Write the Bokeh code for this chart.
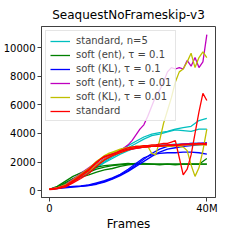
from bokeh.plotting import figure
from bokeh.models import Range1d, FixedTicker, Legend, LegendItem
from bokeh.embed import file_html
from bokeh.resources import INLINE

title = "SeaquestNoFrameskip-v3"
x_label = "Frames"
x_tick_values = [0, 40]
x_tick_labels = {0: "0", 40: "40M"}
y_tick_values = [0, 2000, 4000, 6000, 8000, 10000]

x2 = list(range(0, 41, 2))   # millions of frames, 2M step
x1 = list(range(0, 41))      # millions of frames, 1M step

cyan_runs = [
    (x2, [100, 250, 450, 750, 1050, 1400, 1750, 2100, 2450, 2800, 3150, 3450, 3750, 3950, 4050, 4150, 4300, 4400, 4500, 4900, 5050]),
    (x2, [100, 200, 400, 700, 1000, 1300, 1650, 2000, 2350, 2650, 3000, 3300, 3600, 3850, 3950, 4100, 4250, 4200, 4150, 4300, 4300]),
    (x2, [100, 200, 380, 650, 950, 1250, 1600, 1950, 2250, 2550, 2800, 3000, 3100, 3150, 3200, 3200, 3250, 3250, 3300, 3300, 3250]),
]
green_runs = [
    (x2, [100, 300, 650, 1000, 1250, 1500, 1650, 1750, 1800, 1850, 1900, 1850, 1850, 1850, 1850, 1850, 1850, 1850, 1850, 1850, 1850]),
    (x2, [100, 250, 550, 850, 1100, 1300, 1500, 1650, 1750, 1800, 1850, 1900, 1900, 1850, 1850, 1850, 1850, 1850, 1850, 1850, 1850]),
    (x2, [100, 200, 450, 750, 950, 1100, 1300, 1450, 1550, 1700, 1800, 1850, 1850, 1850, 1800, 1850, 1800, 1850, 1850, 1850, 2250]),
]
blue_runs = [
    (x2, [100, 200, 250, 300, 330, 400, 550, 700, 900, 1150, 1500, 1900, 2300, 2500, 2600, 2650, 2650, 2700, 2700, 2650, 2550]),
    (x2, [100, 200, 250, 280, 300, 380, 500, 650, 850, 1100, 1400, 1800, 2200, 2600, 2900, 3100, 3200, 3250, 3300, 3300, 3350]),
    (x2, [100, 150, 200, 250, 300, 350, 450, 600, 800, 1050, 1350, 1700, 2050, 2400, 2700, 2900, 3000, 3100, 3150, 3200, 3250]),
]
magenta_runs = [
    (x1, [100, 150, 200, 300, 400, 600, 800, 1000, 1200, 1400, 1600, 1800, 2000, 2200, 2350, 2500, 2600, 2700, 2850, 3000,
          3200, 3500, 3900, 4300, 4600, 5200, 5900, 6600, 7000, 7600, 8300, 8600, 8500, 8600, 8500, 9100, 8700, 9300, 8600, 9000, 10900]),
    (x2, [100, 200, 350, 650, 1000, 1400, 1850, 2250, 2500, 2700, 2900, 3000, 3050, 3100, 3150, 3200, 3200, 3250, 3250, 3300, 3300]),
    (x2, [100, 180, 330, 600, 950, 1350, 1800, 2200, 2450, 2700, 2850, 2950, 3050, 3100, 3100, 3150, 3200, 3200, 3250, 3250, 3250]),
]
yellow_runs = [
    (x1, [100, 130, 180, 250, 350, 500, 700, 900, 1100, 1300, 1500, 1750, 2000, 2200, 2400, 2550, 2650, 2750, 2850, 2950,
          3000, 3050, 3100, 3100, 3100, 3100, 2600, 2500, 3500, 4700, 5600, 6500, 7600, 8300, 8500, 9000, 9600, 8600, 9300, 9700, 9300]),
    (x1, [100, 150, 200, 300, 400, 550, 750, 950, 1150, 1350, 1550, 1800, 2050, 2250, 2450, 2600, 2700, 2800, 2900, 2950,
          3000, 3050, 3100, 3100, 3150, 3100, 3150, 3100, 3100, 3150, 3100, 3100, 3150, 3100, 3050, 2800, 1800, 1000, 1600, 2800, 4300]),
    (x2, [100, 200, 350, 650, 1000, 1350, 1800, 2200, 2450, 2650, 2850, 3000, 3050, 3100, 3100, 3150, 3150, 3200, 3200, 3200, 3200]),
]
red_runs = [
    (x1, [80, 100, 150, 220, 300, 450, 650, 800, 1000, 1200, 1400, 1700, 1950, 2200, 2350, 2450, 2550, 2650, 2800, 2900,
          3000, 3050, 3100, 3100, 3150, 3150, 3200, 3200, 3250, 3300, 3300, 3400, 3500, 2300, 1100, 1500, 2500, 4000, 5500, 6800, 6300]),
    (x2, [100, 150, 250, 550, 850, 1200, 1700, 2150, 2450, 2650, 2850, 2950, 3050, 3100, 3150, 3200, 3200, 3250, 3250, 3300, 3200]),
    (x2, [100, 200, 350, 700, 1100, 1500, 2000, 2400, 2550, 2750, 2900, 3000, 3050, 3100, 3100, 3150, 3150, 3200, 3250, 3250, 3300]),
]

series = [
    ("standard, n=5", "#00bfbf", cyan_runs),
    ("soft (ent), τ = 0.1", "#008000", green_runs),
    ("soft (KL), τ = 0.1", "#0000ff", blue_runs),
    ("soft (ent), τ = 0.01", "#bf00bf", magenta_runs),
    ("soft (KL), τ = 0.01", "#bfbf00", yellow_runs),
    ("standard", "#ff0000", red_runs),
]

p = figure(width=233, height=233, output_backend="svg", toolbar_location=None,
           x_range=Range1d(-2.0, 42.2), y_range=Range1d(-476, 11470),
           min_border_left=0, min_border_right=18, min_border_top=0, min_border_bottom=0)
p.title.text = title
p.title.align = "center"
p.title.text_font = "DejaVu Sans"
p.title.text_font_size = "12px"
p.title.text_font_style = "normal"
p.title.text_color = "black"
p.xgrid.visible = False
p.ygrid.visible = False
p.outline_line_color = "#404040"
p.outline_line_width = 1

for ax in (p.xaxis[0], p.yaxis[0]):
    ax.axis_line_color = "#404040"
    ax.major_tick_line_color = "#404040"
    ax.major_tick_in = 0
    ax.major_tick_out = 4
    ax.minor_tick_line_color = None
    ax.major_label_text_font = "DejaVu Sans"
    ax.major_label_text_font_size = "10px"
    ax.major_label_text_color = "black"
    ax.major_label_standoff = 2

p.xaxis.major_label_standoff = 1
p.xaxis.ticker = FixedTicker(ticks=x_tick_values)
p.xaxis.major_label_overrides = x_tick_labels
p.xaxis.axis_label = x_label
p.xaxis.axis_label_text_font = "DejaVu Sans"
p.xaxis.axis_label_text_font_size = "12px"
p.xaxis.axis_label_text_font_style = "normal"
p.xaxis.axis_label_text_color = "black"
p.xaxis.axis_label_standoff = 0
p.yaxis.ticker = FixedTicker(ticks=y_tick_values)

items = []
for label, color, runs in series:
    rs = []
    for xs, ys in runs:
        r = p.line(xs, ys, line_color=color, line_width=1.3)
        rs.append(r)
    items.append(LegendItem(label=label, renderers=[rs[0]]))

legend = Legend(items=items, location="top_left")
legend.label_text_font = "DejaVu Sans"
legend.label_text_font_size = "10px"
legend.label_height = 10
legend.glyph_height = 10
legend.glyph_width = 20
legend.spacing = 3
legend.padding = 4
legend.margin = 4
legend.border_line_color = "#cccccc"
legend.background_fill_alpha = 0.8
legend.label_standoff = 6
p.add_layout(legend)

open("out.html", "w").write(file_html(p, INLINE))
